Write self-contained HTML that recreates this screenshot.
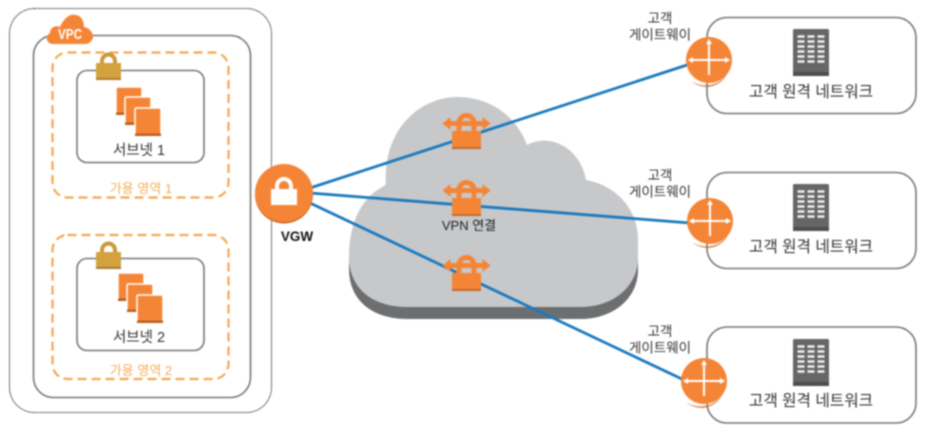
<!DOCTYPE html>
<html lang="ko">
<head>
<meta charset="utf-8">
<title>VPN diagram</title>
<style>
html,body{margin:0;padding:0;background:#fff;width:936px;height:434px;overflow:hidden}
svg{display:block}
.b{filter:blur(.7px)}
.d{filter:blur(.4px)}
text{font-family:"Liberation Sans","Noto Sans CJK KR",sans-serif;text-anchor:middle}
</style>
</head>
<body>
<svg width="936" height="434" viewBox="0 0 936 434" xmlns="http://www.w3.org/2000/svg">
<defs>
  <path id="cloud" d="M349 257C349 222 362 196 386 185C382 130 420 97 457 97C492 97 517 118 527 145C548 133 580 146 586 180C615 185 638 208 638 240V258C638 285 615 307 580 307H407C372 307 349 288 349 257Z"/>
  <g id="sq">
    <rect x="0" y="0" width="26" height="28" rx="1.500" fill="#f58536" stroke="#fff" stroke-width="1.500"/>
    <rect x="0" y="25.500" width="26" height="2.500" fill="#b85f22"/>
  </g>
  <g id="gold">
    <path d="M6 13V9a6.500 6.500 0 0 1 13 0v4" fill="none" stroke="#c99a3b" stroke-width="4"/>
    <rect x="0" y="11" width="25" height="17" fill="#d3a13e"/>
    <rect x="0" y="26" width="25" height="2" fill="#a87f2e"/>
  </g>
  <g id="vpn">
    <path d="M-7.500 20V10a7.500 7.500 0 0 1 15 0v10" fill="none" stroke="#f58536" stroke-width="5"/>
    <rect x="-14.500" y="18" width="29" height="18" fill="#f58536"/>
    <rect x="-14.500" y="34" width="29" height="2" fill="#c26a2b"/>
    <path d="M-24 10.500L-16 4V8H16V4L24 10.500L16 17V13H-16V17Z" fill="#f58536"/>
  </g>
  <g id="gw">
    <circle r="23" fill="#f58536"/>
    <path d="M-18 21A23 23 0 0 0 18 14A26 26 0 0 1-18 21Z" fill="#c5682a" opacity=".8"/>
    <path d="M-20 0H20M0-20V15" stroke="#fff" stroke-width="2"/>
    <path d="M-21 0L-16-3V3ZM21 0L16-3V3ZM0-21L-3-16H3Z" fill="#fff"/>
  </g>
  <g id="srv">
    <rect x="0" y="0" width="36" height="47" rx="1.500" fill="#666"/>
    <rect x="0" y="43" width="36" height="4" fill="#4e4e4e"/>
    <path d="M4.500 7.500h7M14.500 7.500h7M24.500 7.500h7M4.500 12.500h7M14.500 12.500h7M24.500 12.500h7M4.500 17.500h7M14.500 17.500h7M24.500 17.500h7M4.500 22.500h7M14.500 22.500h7M24.500 22.500h7M4.500 27.500h7M14.500 27.500h7M24.500 27.500h7M4.500 32.500h7M14.500 32.500h7M24.500 32.500h7" stroke="#f1f1f1" stroke-width="2.600"/>
  </g>
</defs>

<!-- Outer dotted boundary -->
<rect class="d" x="9.500" y="8.500" width="262" height="404" rx="25" fill="#fff" stroke="#666" stroke-width="1.800" stroke-dasharray="1 1"/>

<g class="b">
<!-- Left VPC region -->
<rect x="33.500" y="35.500" width="217" height="362" rx="20" fill="#fff" stroke="#777" stroke-width="1.600"/>

<rect x="52.500" y="52.500" width="176" height="145" rx="15" fill="none" stroke="#f3a94f" stroke-width="2.200" stroke-dasharray="9 5"/>
<rect x="52.500" y="235" width="176" height="144" rx="15" fill="none" stroke="#f3a94f" stroke-width="2.200" stroke-dasharray="9 5"/>
<rect x="77" y="70.500" width="127" height="92" rx="10" fill="#fff" stroke="#777" stroke-width="1.600"/>
<rect x="77" y="258.500" width="127" height="92" rx="10" fill="#fff" stroke="#777" stroke-width="1.600"/>

<path d="M53 44C46 44 45 36 50 33C50 27 56 25 60 27C63 20 69 13 76 15C82 16 84 22 84 27C91 28 95 36 92 40C90 43 88 44 85 44Z" fill="#f58536"/>
<text x="70" y="39" font-size="15" font-weight="700" fill="#fff" textLength="24" lengthAdjust="spacingAndGlyphs">VPC</text>

<use href="#gold" x="96" y="52"/>
<use href="#gold" x="96" y="241"/>

<use href="#sq" x="116" y="87"/>
<use href="#sq" x="125" y="97"/>
<use href="#sq" x="135" y="108"/>
<use href="#sq" x="118" y="273"/>
<use href="#sq" x="127" y="284"/>
<use href="#sq" x="137" y="295"/>

<text x="139" y="155" font-size="14.500" fill="#333">서브넷 1</text>
<text x="141" y="193" font-size="13" fill="#f3ad5c">가용 영역 1</text>
<text x="139" y="342" font-size="14.500" fill="#333">서브넷 2</text>
<text x="141" y="375" font-size="13" fill="#f3ad5c">가용 영역 2</text>

<!-- Central cloud -->
<use href="#cloud" y="12" fill="#6d6e70"/>
<use href="#cloud" fill="#c7c8ca"/>

<!-- Connectors -->
<path d="M310 188L687 65" stroke="#1a7abf" stroke-width="2.800"/>
<path d="M310 193L690 223" stroke="#1a7abf" stroke-width="2.800"/>
<path d="M310 203L684 380" stroke="#1a7abf" stroke-width="2.800"/>

<use href="#vpn" x="466.500" y="113"/>
<use href="#vpn" x="466.500" y="180"/>
<use href="#vpn" x="466.500" y="255"/>
<text x="469" y="230" font-size="13" fill="#222">VPN 연결</text>

<!-- VGW -->
<circle cx="284" cy="194.500" r="29" fill="#c5682a"/>
<circle cx="284" cy="193" r="29" fill="#f58536"/>
<path d="M277 191V186a7 7 0 0 1 14 0v5" fill="none" stroke="#fff" stroke-width="4"/>
<rect x="271" y="189" width="26" height="16" fill="#fff"/>
<text x="297" y="241" font-size="13.500" font-weight="700" fill="#111">VGW</text>

<!-- Remote networks -->
<rect x="707" y="17.500" width="209" height="96" rx="20" fill="#fff" stroke="#777" stroke-width="1.600"/>
<rect x="707" y="172.500" width="209" height="96" rx="20" fill="#fff" stroke="#777" stroke-width="1.600"/>
<rect x="707" y="327" width="209" height="96" rx="20" fill="#fff" stroke="#777" stroke-width="1.600"/>

<use href="#srv" x="793" y="29"/>
<use href="#srv" x="793" y="184"/>
<use href="#srv" x="793" y="339"/>

<text x="811" y="97" font-size="15.700" fill="#333">고객 원격 네트워크</text>
<text x="811" y="252" font-size="15.700" fill="#333">고객 원격 네트워크</text>
<text x="811" y="406" font-size="15.700" fill="#333">고객 원격 네트워크</text>

<use href="#gw" x="709" y="60"/>
<use href="#gw" x="710" y="221"/>
<use href="#gw" x="704" y="381"/>

<text x="660" y="23" font-size="13.500" fill="#333">고객</text>
<text x="660" y="39.500" font-size="13.500" fill="#333">게이트웨이</text>
<text x="660" y="180" font-size="13.500" fill="#333">고객</text>
<text x="660" y="196.500" font-size="13.500" fill="#333">게이트웨이</text>
<text x="660" y="336" font-size="13.500" fill="#333">고객</text>
<text x="660" y="352.500" font-size="13.500" fill="#333">게이트웨이</text>
</g>
</svg>
</body>
</html>
